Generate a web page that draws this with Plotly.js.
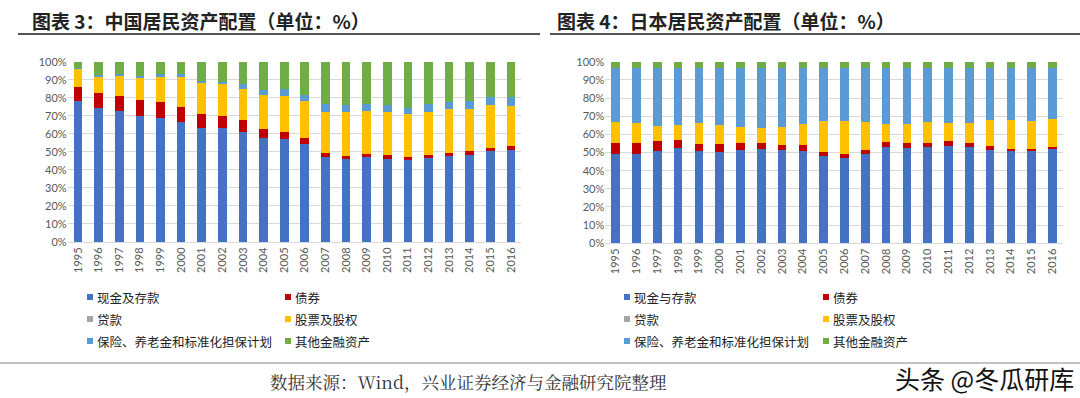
<!DOCTYPE html>
<html>
<head>
<meta charset="utf-8">
<script src="https://cdn.plot.ly/plotly-3.0.1.min.js"></script>
<style>
html,body{margin:0;padding:0;background:#fff;}
#chart{width:1080px;height:398px;}
</style>
</head>
<body>
<div id="chart"></div>
<script>
// ---- data ----
const years = ['1995','1996','1997','1998','1999','2000','2001','2002','2003','2004','2005','2006','2007','2008','2009','2010','2011','2012','2013','2014','2015','2016'];

// China (%)
const cnCash      = [78.0,74.5,72.9,69.9,69.0,66.5,63.2,63.0,60.8,57.8,57.2,54.5,47.4,45.9,47.2,46.3,45.4,46.5,47.8,48.5,50.4,51.3];
const cnBond      = [7.7,8.4,8.1,8.7,8.7,8.5,8.0,7.0,6.7,4.7,3.8,3.1,2.2,1.9,1.7,1.7,1.6,1.5,1.6,1.7,2.0,2.2];
const cnLoan      = [0,0,0,0,0,0,0,0,0,0,0,0,0,0,0,0,0,0,0,0,0,0];
const cnEquity    = [10.0,8.5,11.0,12.1,13.9,16.3,16.8,17.4,17.1,18.9,20.0,20.7,22.5,24.3,23.6,23.9,24.0,24.1,24.2,23.8,23.4,22.0];
const cnInsurance = [1.0,1.1,1.0,1.1,1.4,1.7,1.4,1.4,2.8,3.0,3.6,3.5,4.3,3.7,4.3,3.9,3.5,4.3,4.1,4.3,4.7,5.0];
const cnOther     = [3.3,7.5,7.0,8.2,7.0,7.0,10.6,11.2,12.6,15.6,15.4,18.2,23.6,24.2,23.2,24.2,25.5,23.6,22.3,21.7,19.5,19.5];

// Japan (%)
const jpCash      = [49.0,49.2,51.0,52.3,50.8,50.5,51.4,52.1,51.4,51.0,48.1,46.8,49.2,53.2,52.7,52.8,53.8,53.0,51.2,50.6,50.6,52.0];
const jpBond      = [6.0,5.8,5.3,4.6,3.9,4.0,3.8,3.1,2.7,3.1,2.0,2.6,2.4,2.6,2.7,2.6,2.5,2.0,2.2,1.5,1.3,1.2];
const jpLoan      = [0,0,0,0,0,0,0,0,0,0,0,0,0,0,0,0,0,0,0,0,0,0];
const jpEquity    = [12.0,11.0,8.5,8.2,11.3,10.6,8.7,8.1,10.1,11.4,17.4,18.1,15.4,10.1,10.5,11.6,10.1,11.4,14.5,15.8,15.6,15.3];
const jpInsurance = [29.7,30.7,31.9,31.6,30.7,31.6,32.8,33.4,32.5,31.2,29.2,29.2,29.7,30.8,30.8,29.7,30.3,30.3,28.8,28.8,29.2,28.2];
const jpOther     = [3.3,3.3,3.3,3.3,3.3,3.3,3.3,3.3,3.3,3.3,3.3,3.3,3.3,3.3,3.3,3.3,3.3,3.3,3.3,3.3,3.3,3.3];

const cnNames = ['现金及存款','债券','贷款','股票及股权','保险、养老金和标准化担保计划','其他金融资产'];
const jpNames = ['现金与存款','债券','贷款','股票及股权','保险、养老金和标准化担保计划','其他金融资产'];
const colors  = ['#4472C4','#C00000','#A5A5A5','#FFC000','#5B9BD5','#70AD47'];

const titleLeft  = '图表 3：中国居民资产配置（单位：%）';
const titleRight = '图表 4：日本居民资产配置（单位：%）';
const sourceText = '数据来源：Wind，兴业证券经济与金融研究院整理';
const watermark  = '头条 @冬瓜研库';

// ---- build ----
const W = 1080, H = 398;
const px = v => v / W;
const py = v => 1 - v / H;

const cnSeries = [cnCash, cnBond, cnLoan, cnEquity, cnInsurance, cnOther];
const jpSeries = [jpCash, jpBond, jpLoan, jpEquity, jpInsurance, jpOther];

const traces = [];
cnSeries.forEach((s, i) => {
  traces.push({type: 'bar', x: years, y: s, name: cnNames[i], marker: {color: colors[i]},
    xaxis: 'x', yaxis: 'y', showlegend: false});
});
jpSeries.forEach((s, i) => {
  traces.push({type: 'bar', x: years, y: s, name: jpNames[i], marker: {color: colors[i]},
    xaxis: 'x2', yaxis: 'y2', showlegend: false});
});

const tickFont = {family: 'Lato, "Noto Sans", sans-serif', size: 11, color: '#595959'};
const yCommon = {
  range: [0, 100], dtick: 10, ticksuffix: '%', tickfont: tickFont,
  showgrid: true, gridcolor: '#D9D9D9', gridwidth: 1, zeroline: false,
  showline: false, ticks: '', fixedrange: true
};
const xCommon = {
  type: 'category', tickangle: -90, tickfont: tickFont, showgrid: false,
  zeroline: false, showline: true, linecolor: '#D9D9D9', linewidth: 1, ticks: '', fixedrange: true
};

const cjk = '"Noto Sans CJK SC", sans-serif';

const shapes = [
  {type: 'line', xref: 'paper', yref: 'paper', x0: px(18), x1: px(540), y0: py(34), y1: py(34), line: {color: '#555555', width: 2}},
  {type: 'line', xref: 'paper', yref: 'paper', x0: px(550), x1: px(1080), y0: py(34), y1: py(34), line: {color: '#555555', width: 2}},
  {type: 'line', xref: 'paper', yref: 'paper', x0: px(0), x1: px(1080), y0: py(363), y1: py(363), line: {color: '#888888', width: 1}}
];
const annotations = [
  {xref: 'paper', yref: 'paper', x: px(30), y: py(20), xanchor: 'left', yanchor: 'middle', showarrow: false,
   text: '<b>' + titleLeft + '</b>', font: {family: cjk, size: 19, color: '#222222'}},
  {xref: 'paper', yref: 'paper', x: px(555), y: py(20), xanchor: 'left', yanchor: 'middle', showarrow: false,
   text: '<b>' + titleRight + '</b>', font: {family: cjk, size: 19, color: '#222222'}},
  {xref: 'paper', yref: 'paper', x: px(268), y: py(381), xanchor: 'left', yanchor: 'middle', showarrow: false,
   text: sourceText, font: {family: '"Noto Serif CJK SC", "Noto Sans CJK SC", serif', size: 17.5, color: '#333333'}},
  {xref: 'paper', yref: 'paper', x: px(1076), y: py(378), xanchor: 'right', yanchor: 'middle', showarrow: false,
   text: watermark, font: {family: cjk, size: 25, color: '#111111'}}
];

// legend blocks (two columns × three rows under each chart)
function legendBlock(names, colX, rowY) {
  names.forEach((n, i) => {
    const cx = colX[i % 2], cy = rowY[Math.floor(i / 2)];
    shapes.push({type: 'rect', xref: 'paper', yref: 'paper',
      x0: px(cx - 3), x1: px(cx + 3), y0: py(cy - 3), y1: py(cy + 3),
      fillcolor: colors[i], line: {width: 0}});
    annotations.push({xref: 'paper', yref: 'paper', x: px(cx + 5), y: py(cy), xanchor: 'left', yanchor: 'middle',
      showarrow: false, text: n, font: {family: cjk, size: 12.5, color: '#222222'}});
  });
}
legendBlock(cnNames, [90, 288], [297, 319, 341]);
legendBlock(jpNames, [627, 826], [297, 319, 341]);

const layout = {
  width: W, height: H,
  margin: {l: 0, r: 0, t: 0, b: 0},
  paper_bgcolor: '#ffffff', plot_bgcolor: '#ffffff',
  barmode: 'stack', bargap: 0.58,
  showlegend: false,
  xaxis: Object.assign({}, xCommon, {domain: [px(67.7), px(521.3)], anchor: 'y'}),
  yaxis: Object.assign({}, yCommon, {domain: [py(242), py(61.7)], anchor: 'x'}),
  xaxis2: Object.assign({}, xCommon, {domain: [px(605.3), px(1062.9)], anchor: 'y2'}),
  yaxis2: Object.assign({}, yCommon, {domain: [py(243.3), py(61.7)], anchor: 'x2'}),
  shapes: shapes,
  annotations: annotations
};

Plotly.newPlot('chart', traces, layout, {displayModeBar: false, staticPlot: true});
</script>
</body>
</html>
